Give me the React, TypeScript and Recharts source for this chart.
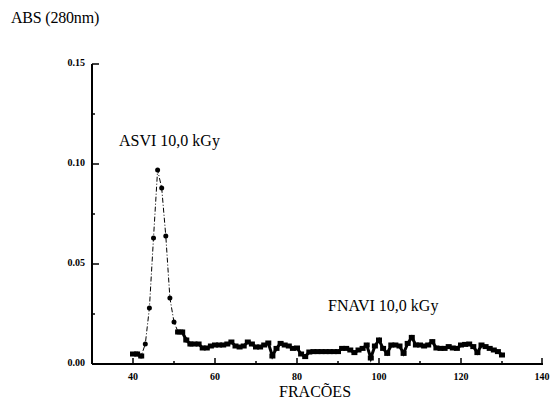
import { LineChart, Line, XAxis, YAxis } from "recharts";

// ASVI 10,0 kGy - pico (circulos, traço-ponto)
const asviFracoes = [41, 42, 43, 44, 45, 46, 47, 48, 49, 50, 51, 52, 53, 54];
const asviAbs = [0.005, 0.004, 0.010, 0.028, 0.063, 0.097, 0.088, 0.064, 0.033, 0.021, 0.016, 0.016, 0.012, 0.010];

// FNAVI 10,0 kGy - inicio (quadrados)
const fnaviInicioFracoes = [40, 41, 42];
const fnaviInicioAbs = [0.005, 0.005, 0.004];

// FNAVI 10,0 kGy - base (quadrados)
const fnaviFracoes = [
  51, 52, 53, 54, 55, 56, 57, 58, 59, 60, 61, 62, 63, 64, 65, 66, 67, 68, 69, 70,
  71, 72, 73, 74, 75, 76, 77, 78, 79, 80, 81, 82, 83, 84, 85, 86, 87, 88, 89, 90,
  91, 92, 93, 94, 95, 96, 97, 98, 99, 100, 101, 102, 103, 104, 105, 106, 107, 108, 109, 110,
  111, 112, 113, 114, 115, 116, 117, 118, 119, 120, 121, 122, 123, 124, 125, 126, 127, 128, 129, 130,
];
const fnaviAbs = [
  0.016, 0.016, 0.012, 0.010, 0.010, 0.010, 0.008, 0.008, 0.009, 0.0095, 0.0095, 0.0095, 0.010, 0.011, 0.009, 0.0085, 0.009, 0.011, 0.010, 0.0085,
  0.0085, 0.0095, 0.0105, 0.004, 0.0078, 0.0103, 0.0095, 0.009, 0.0078, 0.008, 0.005, 0.0037, 0.006, 0.0062, 0.0062, 0.0062, 0.0062, 0.0062, 0.0062, 0.0062,
  0.0078, 0.0078, 0.007, 0.0057, 0.007, 0.0078, 0.0095, 0.003, 0.009, 0.012, 0.0078, 0.0053, 0.0095, 0.0095, 0.009, 0.0053, 0.0103, 0.0133, 0.0095, 0.0095,
  0.009, 0.0095, 0.0112, 0.008, 0.0078, 0.0078, 0.0087, 0.008, 0.0078, 0.0095, 0.0098, 0.010, 0.0087, 0.0057, 0.0095, 0.0087, 0.0078, 0.007, 0.0062, 0.0045,
];

const xTicks = [30, 40, 50, 60, 70, 80, 90, 100, 110, 120, 130, 140];
const xLabels = [40, 60, 80, 100, 120, 140];
const yTicks = [0, 0.025, 0.05, 0.075, 0.1, 0.125, 0.15];
const yLabels = [0, 0.05, 0.1, 0.15];

const asviData = asviFracoes.map((f, i) => ({ fracao: f, abs: asviAbs[i] }));
const fnaviInicioData = fnaviInicioFracoes.map((f, i) => ({ fracao: f, abs: fnaviInicioAbs[i] }));
const fnaviData = fnaviFracoes.map((f, i) => ({ fracao: f, abs: fnaviAbs[i] }));

const serif = "'Liberation Serif', 'DejaVu Serif', serif";

const XTick = (props: any) => {
  const { x, y, payload } = props;
  const major = xLabels.includes(payload.value);
  if (payload.value === 30) return null;
  return (
    <g>
      <line x1={x} x2={x} y1={y} y2={y - (major ? 6 : 3)} stroke="#000" strokeWidth={1.5} />
      {major && (
        <text x={x} y={y + 16} textAnchor="middle" fontSize={10} fontWeight="bold" fontFamily={serif} fill="#000">
          {payload.value}
        </text>
      )}
    </g>
  );
};

const YTick = (props: any) => {
  const { x, y, payload } = props;
  const major = yLabels.includes(payload.value);
  return (
    <g>
      <line x1={x} x2={x + (major ? 7 : 3)} y1={y} y2={y} stroke="#000" strokeWidth={1.5} />
      {major && (
        <text x={x - 7} y={y + 2} textAnchor="end" fontSize={10} fontWeight="bold" fontFamily={serif} fill="#000">
          {payload.value.toFixed(2)}
        </text>
      )}
    </g>
  );
};

const SquareDot = (props: any) => {
  const { cx, cy } = props;
  if (cx == null || cy == null) return null;
  return <rect x={cx - 3} y={cy - 2.5} width={6} height={5} fill="#000" />;
};

export default function App() {
  return (
    <div style={{ position: "absolute", left: 0, top: 0, width: 554, height: 404, background: "#fff", fontFamily: serif }}>
      <LineChart width={554} height={404} margin={{ top: 64, right: 11, bottom: 10, left: 0 }}>
        <XAxis
          dataKey="fracao"
          type="number"
          domain={[30, 140]}
          ticks={xTicks}
          tick={<XTick />}
          tickSize={0}
          tickMargin={0}
          tickLine={false}
          axisLine={{ stroke: "#000", strokeWidth: 2 }}
          height={30}
          allowDuplicatedCategory={false}
        />
        <YAxis
          type="number"
          domain={[0, 0.15]}
          ticks={yTicks}
          tick={<YTick />}
          tickSize={0}
          tickMargin={0}
          tickLine={false}
          axisLine={{ stroke: "#000", strokeWidth: 2 }}
          width={92}
        />
        <Line
          data={fnaviInicioData}
          dataKey="abs"
          stroke="#000"
          strokeWidth={3}
          dot={<SquareDot />}
          isAnimationActive={false}
        />
        <Line
          data={fnaviData}
          dataKey="abs"
          stroke="#000"
          strokeWidth={3}
          dot={<SquareDot />}
          isAnimationActive={false}
        />
        <Line
          data={asviData}
          dataKey="abs"
          stroke="#000"
          strokeWidth={1}
          strokeDasharray="5 2 1 2"
          dot={{ r: 2.5, fill: "#000", stroke: "#000", strokeWidth: 0 }}
          isAnimationActive={false}
        />
      </LineChart>
      <span style={{ position: "absolute", left: 11, top: 9, fontSize: 16, letterSpacing: -0.2 }}>ABS (280nm)</span>
      <span style={{ position: "absolute", left: 119, top: 132, fontSize: 16 }}>ASVI 10,0 kGy</span>
      <span style={{ position: "absolute", left: 328, top: 297, fontSize: 16 }}>FNAVI 10,0 kGy</span>
      <span style={{ position: "absolute", left: 279, top: 383, fontSize: 16 }}>FRACÕES</span>
    </div>
  );
}
